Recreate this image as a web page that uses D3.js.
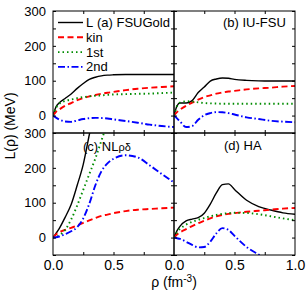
<!DOCTYPE html>
<meta charset="utf-8">
<head>
<script src="https://d3js.org/d3.v7.min.js"></script>
<style>
body { margin: 0; background: #fff; }
text { font-family: "Liberation Sans", Arial, sans-serif; fill: #000; }
</style>
</head>
<body>
<script>

// density grid (fm^-3)
var rho = [0, 0.025, 0.05, 0.1, 0.15, 0.2, 0.25, 0.3, 0.35, 0.4, 0.45, 0.5, 0.6, 0.7, 0.8, 0.9, 1.0];

// (a) FSUGold
var aL   = [0, 25, 36, 49, 62, 78, 92, 104, 110, 114, 116, 117, 118, 118, 118, 118, 118];
var aKin = [0, 11, 17, 28, 36, 44, 50, 55, 59, 62.5, 65.5, 68, 73, 77, 80, 82, 84];
var a1st = [0, 22, 33, 42, 46, 50, 53, 55, 57, 58, 59.5, 60.5, 61.5, 62.5, 63, 64.5, 66];
var a2nd = [0, -6, -11, -17, -18, -14, -10, -7.5, -6.5, -7, -8.5, -11, -15.5, -20.5, -26, -30, -33];

// (b) IU-FSU
var bL   = [0, 28, 36, 36, 43, 66, 82, 99, 105, 108, 107, 104, 101, 99.5, 99, 99, 99];
var bKin = [0, 10, 17, 28, 37, 46, 53, 58, 63, 66, 69, 71, 75, 78, 80, 83, 85];
var b1st = [0, 27, 37, 41, 40, 38, 36, 35, 34.5, 34, 34, 34, 34, 34, 34, 34, 34];
var b2nd = [0, -8, -17, -33, -30, -12, 1, 7, 10, 9.5, 7, 3, -5, -10, -15, -17.5, -19];

// (c) NLrho-delta (null = off the chart)
var cL   = [0, 12, 25, 58, 95, 150, 210, 295, 380, null, null, null, null, null, null, null, null];
var cKin = [0, 9, 15, 22, 28, 35, 42, 49, 56, 62, 66, 70, 76, 80, 82, 84, 86];
var c1st = [0, 2, 6, 22, 52, 92, 137, 182, 227, 278, 330, null, null, null, null, null, null];
var c2nd = [0, 1, 3, 10, 18, 30, 55, 97, 150, 190, 213, 226, 236, 230, 207, 182, 158];

// (d) HA
var dL   = [0, 20, 33, 48, 53, 57, 70, 96, 128, 152, 154, 138, 107, 89, 79, 71, 67];
var dKin = [0, 9, 15, 24, 33, 41, 48, 55, 61, 65, 68, 70, 74, 77, 80, 83, 85];
var d1st = [0, 15, 25, 37, 45, 51, 56, 61, 65, 68, 70, 71, 70.5, 67, 61, 55, 50];
var d2nd = [0, -2, -4, -12, -21, -28, -27, -12, 12, 27, 22, 5, -27, -49, -70, -90, -110];

var seriesNames = ["L", "kin", "1st", "2nd"];
var panelNames = ["(a) FSUGold", "(b) IU-FSU", "(c) NL", "(d) HA"];

var panels = [
  {col: 0, row: 0, vals: [aL, aKin, a1st, a2nd]},
  {col: 1, row: 0, vals: [bL, bKin, b1st, b2nd]},
  {col: 0, row: 1, vals: [cL, cKin, c1st, c2nd]},
  {col: 1, row: 1, vals: [dL, dKin, d1st, d2nd]}
];

var styles = [
  {color: "#000000", width: 1.4, dash: null},
  {color: "#ff0000", width: 1.9, dash: "6,3.5"},
  {color: "#008c00", width: 1.9, dash: "1.5,3"},
  {color: "#0000ff", width: 1.9, dash: "7,2.5,1.5,2.5"}
];

var marginL = 53, marginT = 11, pw = 121, ph = 122;

var svg = d3.select("body").append("svg")
    .attr("width", 306)
    .attr("height", 293);

var x = d3.scaleLinear().domain([0, 1]).range([0, pw]);
var y = d3.scaleLinear().domain([-50, 300]).range([ph, 0]);

var line = d3.line()
    .defined(function(d) { return d[1] !== null; })
    .x(function(d) { return x(d[0]); })
    .y(function(d) { return y(d[1]); })
    .curve(d3.curveMonotoneX);

panels.forEach(function(p, i) {
  var g = svg.append("g")
      .attr("transform", "translate(" + (marginL + p.col * pw) + "," + (marginT + p.row * ph) + ")");

  g.append("clipPath").attr("id", "clip" + i)
    .append("rect").attr("width", pw).attr("height", ph);

  var curves = g.append("g").attr("clip-path", "url(#clip" + i + ")");
  p.vals.forEach(function(v, k) {
    var pts = rho.map(function(r, j) { return [r, v[j]]; });
    curves.append("path")
        .datum(pts)
        .attr("fill", "none")
        .attr("stroke", styles[k].color)
        .attr("stroke-width", styles[k].width)
        .attr("stroke-dasharray", styles[k].dash)
        .attr("d", line);
  });

  // inward ticks on all four sides
  var xt = [0.25, 0.5, 0.75], yt = d3.range(-50, 301, 50);
  g.append("g").attr("transform", "translate(0," + ph + ")")
      .call(d3.axisBottom(x).tickValues(xt).tickSize(-3).tickFormat(""));
  g.append("g")
      .call(d3.axisTop(x).tickValues(xt).tickSize(-3).tickFormat(""));
  g.append("g")
      .call(d3.axisLeft(y).tickValues(yt).tickSize(-3).tickFormat(""));
  g.append("g").attr("transform", "translate(" + pw + ",0)")
      .call(d3.axisRight(y).tickValues(yt).tickSize(-3).tickFormat(""));
  g.selectAll(".domain").remove();
  g.selectAll(".tick line").attr("stroke", "#000");

  g.append("rect")
      .attr("width", pw).attr("height", ph)
      .attr("fill", "none").attr("stroke", "#000").attr("stroke-width", 1);

  // tick labels
  if (p.col === 0) {
    var ya = g.append("g")
        .call(d3.axisLeft(y).tickValues([0, 100, 200, 300]).tickSize(0).tickPadding(7));
    ya.selectAll("text").style("font-size", "13px").attr("font-family", null);
    ya.select(".domain").remove();
  }
  if (p.row === 1) {
    var xa = g.append("g").attr("transform", "translate(0," + ph + ")")
        .call(d3.axisBottom(x).tickValues(p.col === 0 ? [0, 0.5] : [0, 0.5, 1])
          .tickSize(0).tickPadding(5).tickFormat(d3.format(".1f")));
    xa.selectAll("text").style("font-size", "14px").attr("font-family", null);
    xa.select(".domain").remove();
  }

  // panel label
  if (i === 1) {
    g.append("text").attr("x", 49).attr("y", 16).style("font-size", "13px").text(panelNames[1]);
  } else if (i === 2) {
    var t = g.append("text").attr("x", 30).attr("y", 18).style("font-size", "13px").text(panelNames[2]);
    t.append("tspan").style("font-size", "11px").text("ρδ");
  } else if (i === 3) {
    g.append("text").attr("x", 50).attr("y", 17).style("font-size", "13px").text(panelNames[3]);
  } else {
    // legend in panel (a)
    seriesNames.forEach(function(s, k) {
      var ly = 11.5 + k * 14.8;
      g.append("line")
          .attr("x1", 5).attr("x2", 30).attr("y1", ly).attr("y2", ly)
          .attr("stroke", styles[k].color)
          .attr("stroke-width", styles[k].width)
          .attr("stroke-dasharray", styles[k].dash);
      g.append("text").attr("x", 33).attr("y", ly + 4.5)
          .style("font-size", "13px").text(s);
    });
    g.append("text").attr("x", 44).attr("y", 16).style("font-size", "13px").text(panelNames[0]);
  }
});

// axis titles
svg.append("text")
    .attr("transform", "translate(15,126) rotate(-90)")
    .attr("text-anchor", "middle")
    .style("font-size", "14px")
    .text("L(ρ) (MeV)");

var xt = svg.append("text")
    .attr("x", 174).attr("y", 287)
    .attr("text-anchor", "middle")
    .style("font-size", "14px")
    .text("ρ (fm");
xt.append("tspan").attr("dy", -5).style("font-size", "10px").text("-3");
xt.append("tspan").attr("dy", 5).text(")");

</script>
</body>
